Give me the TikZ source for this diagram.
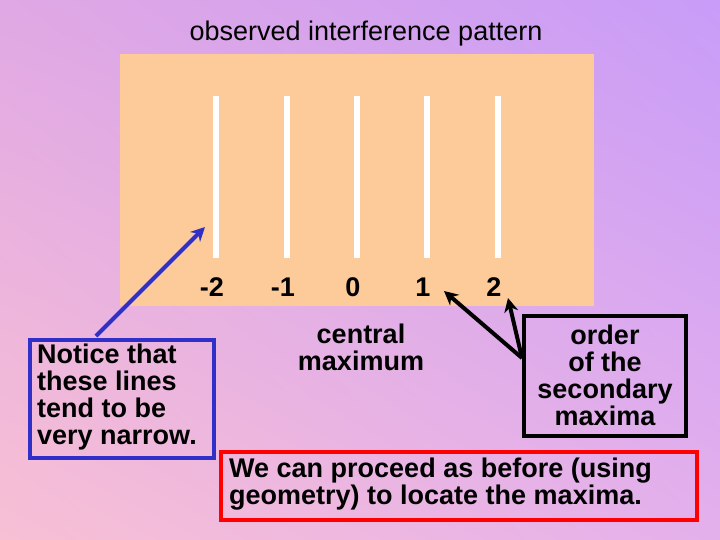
\documentclass[tikz,border=0pt]{standalone}
\usepackage{fontspec}
\setmainfont{Liberation Sans}
\usetikzlibrary{arrows.meta,shadings}
\definecolor{tl}{HTML}{E0A8E4}
\definecolor{tr}{HTML}{C89CF8}
\definecolor{bl}{HTML}{F8C0D4}
\definecolor{br}{HTML}{E4B0EC}
\definecolor{peach}{HTML}{FDCA9A}
\definecolor{bluebox}{HTML}{3030C8}
\begin{document}
\begin{tikzpicture}[x=1pt,y=-1pt,
  fringe/.style={white,line width=6pt},
  num/.style={font=\fontsize{27}{27}\selectfont\bfseries},
  txt/.style={font=\fontsize{27}{27}\selectfont\bfseries, align=center, inner sep=0},
  arr/.style={line width=4pt,-{Stealth[length=14pt,width=14pt]}}]
\useasboundingbox (0,0) rectangle (720,540);
\shade[upper left=tl,upper right=tr,lower left=bl,lower right=br] (0,0) rectangle (720,540);
\fill[peach] (120,54) rectangle (594,306);
\node[font=\fontsize{27}{27}\selectfont] (title) at (366,34) {observed interference pattern};
\foreach \x/\n [count=\i] in {216/-2,287/-1,357/0,427/1,498/2}{
  \draw[fringe] (\x,96) -- (\x,258);
  \node[num] (n\i) at (\x-4,287) {\n};
}
\node[txt] (cm) at (361,347) {central\\maximum};
\node[draw=bluebox,line width=4pt,minimum width=184pt,minimum height=118pt] (nb) at (122,399) {};
\node[txt,align=left,anchor=north west] (nt) at (37,344) {Notice that\\these lines\\tend to be\\very narrow.};
\node[draw=black,line width=4pt,minimum width=162pt,minimum height=120pt] (ob) at (605,376) {};
\node[txt] (ot) at (605,375) {order\\of the\\secondary\\maxima};
\node[draw=red,line width=4pt,minimum width=476pt,minimum height=68pt] (rb) at (459,486) {};
\node[txt,align=left,anchor=north west] (rt) at (229,458) {We can proceed as before (using\\geometry) to locate the maxima.};
\coordinate (bs) at (96,336);
\coordinate (bt) at (205,227);
\draw[arr,bluebox] (bs) -- (bt);
\coordinate (os) at (522,358);
\draw[arr] (os) -- (444,291);
\draw[arr] (os) -- (508,298);
\end{tikzpicture}
\end{document}
